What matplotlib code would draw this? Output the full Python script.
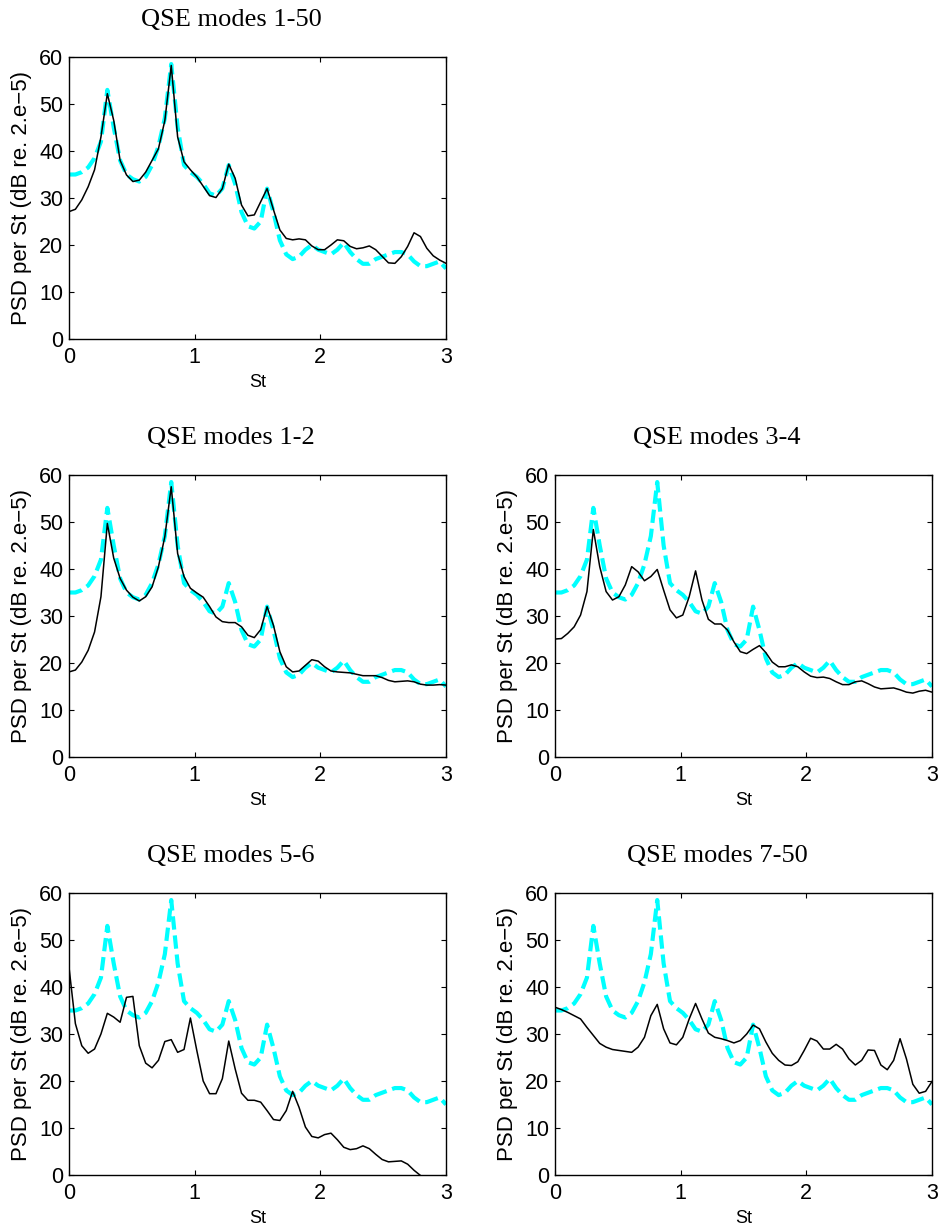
import numpy as np
import matplotlib
matplotlib.use("Agg")
import matplotlib.pyplot as plt

# St grid: 60 samples from 0 to 3
st = np.linspace(0, 3, 60)

# total spectrum (cyan dashed, same in every panel)
psd_total = [35, 35, 35.5, 36.5, 38.5, 42, 53, 45, 38, 35,
             34, 33.5, 34.5, 37, 41, 47, 58.5, 45, 37, 35.5,
             34.5, 33, 31, 30.5, 32, 37, 33, 27, 24, 23.5,
             25, 32, 27, 21, 18, 17, 17.5, 19, 20, 19,
             18.5, 18, 19, 20.5, 18.5, 17, 16, 16, 17, 17.5,
             18, 18.5, 18.5, 18, 16.5, 15.5, 15.5, 16, 16.5, 15]

psd_1_50 = [27.1, 27.6, 29.6, 32.4, 36, 43, 52.2, 46.5, 38, 34.9,
            33.5, 33.8, 35.5, 38, 40.5, 46.5, 58.2, 43, 37.7, 36,
            34.5, 32.5, 30.5, 30.1, 32, 37.2, 34.2, 28.5, 26.2, 26.4,
            29.2, 32, 27.5, 23.2, 21.4, 21.1, 21.3, 21.1, 19.8, 19,
            19, 20, 21.1, 20.9, 19.7, 19.2, 19.4, 19.8, 19, 17.6,
            16.2, 16.1, 17.5, 19.7, 22.6, 21.8, 19.3, 17.7, 16.8, 16.1]

psd_1_2 = [18.1, 18.5, 20.2, 22.7, 26.6, 34.1, 49.7, 42.3, 38, 35.5,
           34, 33.2, 34.1, 36.2, 40.5, 46.9, 57.5, 43.3, 38.4, 35.9,
           34.9, 34, 32, 29.8, 28.8, 28.6, 28.6, 27.7, 25.9, 25.4,
           27.1, 32, 28, 22.4, 19.2, 18.1, 18.3, 19.5, 20.7, 20.4,
           19.2, 18.3, 18.1, 18, 17.9, 17.6, 17.3, 17.3, 17.3, 16.9,
           16.3, 16, 16.1, 16.2, 16, 15.5, 15.3, 15.3, 15.4, 15.3]

psd_3_4 = [25.1, 25.2, 26.3, 27.7, 30.2, 35.2, 48.4, 40.5, 35.2, 33.4,
           34.1, 36.6, 40.5, 39.4, 37.5, 38.4, 39.9, 35.5, 31.3, 29.6,
           30.2, 34.1, 39.6, 33.4, 29.3, 28.3, 28.3, 27, 24.5, 22.4,
           22, 22.9, 23.7, 22.2, 20.2, 19.2, 19.2, 19.6, 19.2, 18.1,
           17.2, 16.9, 17, 16.7, 16, 15.4, 15.4, 16, 16.2, 15.6,
           14.9, 14.5, 14.6, 14.7, 14.3, 13.8, 13.6, 14, 14.2, 13.8]

psd_5_6 = [44.2, 32.2, 27.5, 25.9, 26.8, 30, 34.4, 33.6, 32.5, 37.8,
           38, 27.5, 23.8, 22.8, 24.4, 28.4, 28.8, 26.1, 26.7, 33.4,
           26.5, 20, 17.3, 17.3, 20.5, 28.5, 22.6, 17.4, 15.9, 15.9,
           15.5, 13.7, 11.8, 11.6, 13.7, 17.8, 14.4, 10.2, 8.2, 7.9,
           8.6, 8.9, 7.5, 5.9, 5.4, 5.6, 6.2, 5.6, 4.4, 3.3,
           2.8, 2.9, 3, 2.3, 1, -0.1, -1.5, -2.8, -4, -5]

psd_7_50 = [35.7, 35.2, 34.6, 33.9, 33.2, 31.4, 29.7, 28, 27.2, 26.7,
            26.5, 26.3, 26.1, 27.2, 29.3, 33.9, 36.3, 31.1, 28.1, 27.7,
            29.3, 33.2, 36.5, 33.2, 30.2, 29.3, 29, 28.6, 28.1, 28.6,
            30, 31.9, 31.1, 28.3, 25.9, 24.4, 23.4, 23.3, 24.1, 26.5,
            29.1, 28.5, 26.8, 26.8, 27.8, 26.8, 24.7, 23.4, 24.4, 26.6,
            26.5, 23.4, 22.4, 24.4, 29, 24.7, 19.3, 17.4, 17.8, 19.9]

titles = ["QSE modes 1-50", "QSE modes 1-2", "QSE modes 3-4",
          "QSE modes 5-6", "QSE modes 7-50"]
panels = [psd_1_50, psd_1_2, psd_3_4, psd_5_6, psd_7_50]

SANS = "Liberation Sans"
SERIF = "Liberation Serif"

# axes rectangles in figure fraction (left, bottom, width, height)
W, H = 941, 1227
col_left = [69 / W, 555 / W]
row_bottom = [1 - 339 / H, 1 - 757 / H, 1 - 1175 / H]
aw, ah = 377 / W, 282 / H
slots = [(0, 0), (1, 0), (1, 1), (2, 0), (2, 1)]


def psd_panel(fig, rect, y, title):
    ax = fig.add_axes(rect)
    ax.plot(st, psd_total, color="#00FFFF", lw=3, ls=(0, (3.2, 1.4)), zorder=2)
    ax.plot(st, y, color="black", lw=1.1, zorder=3)
    ax.set_xlim(0, 3)
    ax.set_ylim(0, 60)
    ax.set_xticks([0, 1, 2, 3])
    ax.set_yticks(range(0, 61, 10))
    ax.tick_params(direction="in", top=True, right=True, length=3.5, width=0.8,
                   labelsize=15.5)
    ax.tick_params(axis="x", pad=6)
    ax.tick_params(axis="y", pad=4)
    for lab in ax.get_xticklabels() + ax.get_yticklabels():
        lab.set_fontfamily(SANS)
    for sp in ax.spines.values():
        sp.set_linewidth(1.0)
    ax.set_xlabel("St", fontsize=13, family=SANS, labelpad=4)
    ax.set_ylabel("PSD per St (dB re. 2.e\u22125)", fontsize=16, family=SANS, labelpad=5)
    ax.set_title(title, fontsize=19, family=SERIF, pad=22, x=0.43)
    return ax


fig = plt.figure(figsize=(W / 100, H / 100), dpi=100)
for (r, c), y, t in zip(slots, panels, titles):
    psd_panel(fig, [col_left[c], row_bottom[r], aw, ah], y, t)

fig.savefig("out.png", dpi=100)
